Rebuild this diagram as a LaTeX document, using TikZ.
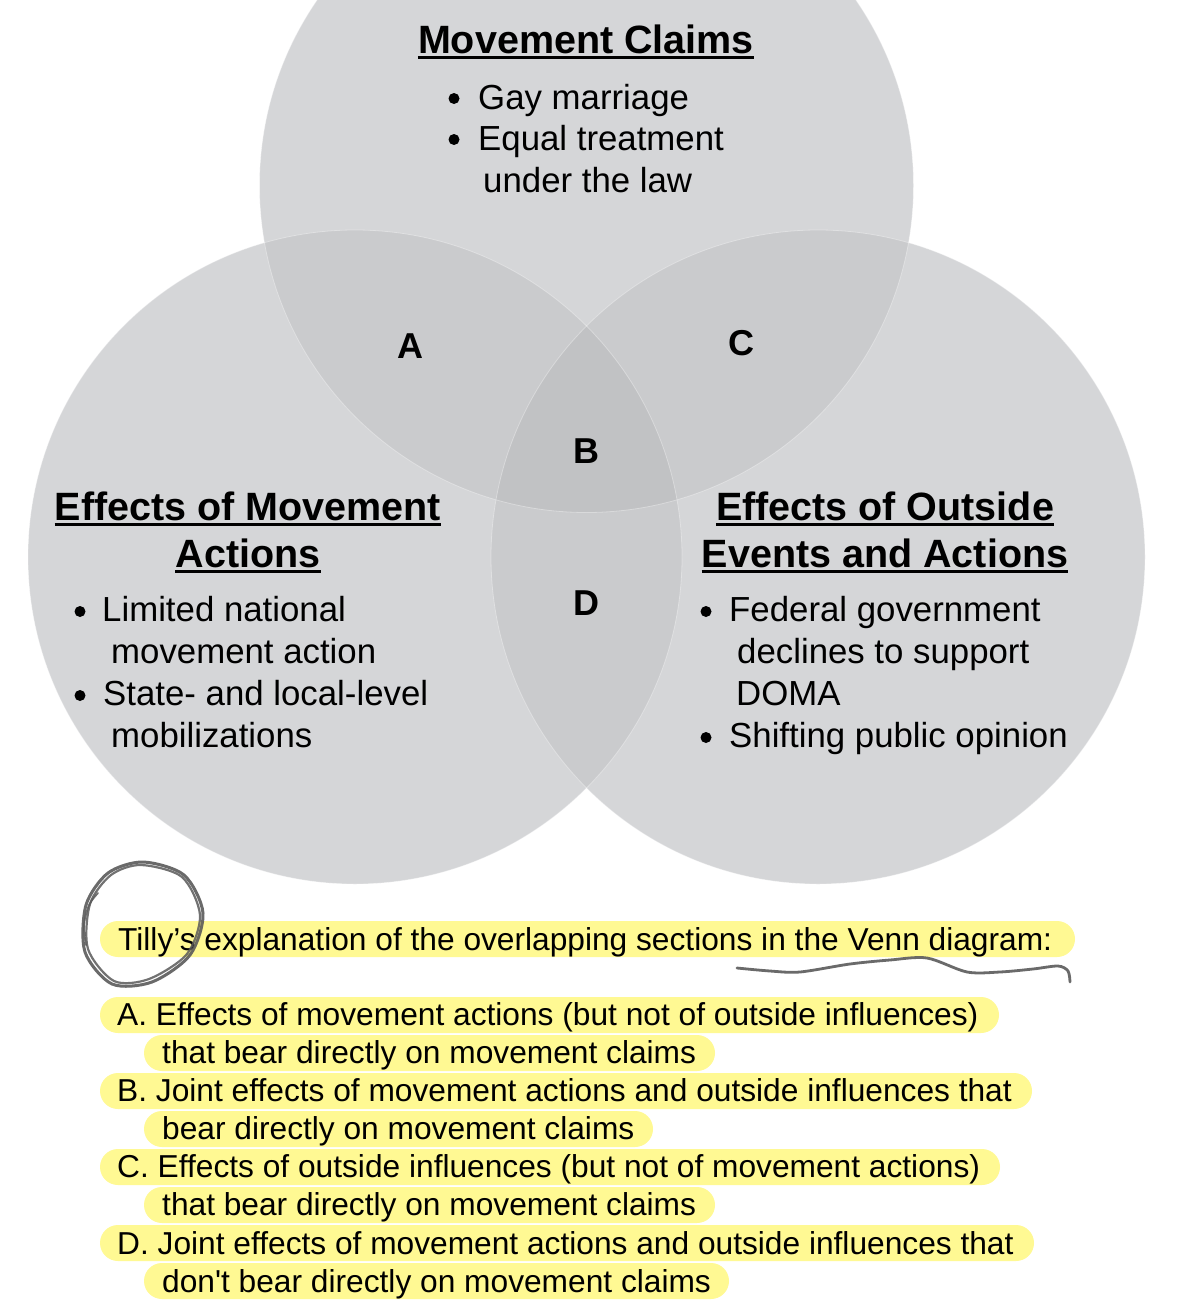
\documentclass[tikz,border=0pt]{standalone}
\usepackage{fontspec}
\setmainfont{Liberation Sans}
\newfontfamily\nomapfont{Liberation Sans}[Ligatures=TeXOff]
\definecolor{cone}{HTML}{D5D6D8}
\definecolor{ctwo}{HTML}{CACBCD}
\definecolor{cthree}{HTML}{C1C2C4}
\definecolor{hl}{HTML}{FFF993}
\definecolor{pen}{HTML}{5A5A5A}
\tikzset{
  title/.style={inner sep=0pt, anchor=base, font=\fontsize{39.5}{47}\selectfont\bfseries},
  body/.style={inner sep=0pt, anchor=base west, font=\fontsize{34.8}{42}\selectfont},
  bul/.style={circle, fill=black, inner sep=0pt, minimum size=11pt},
  letter/.style={inner sep=0pt, anchor=base, font=\fontsize{36}{42}\selectfont\bfseries},
  lst/.style={inner sep=0pt, anchor=base west, font=\fontsize{31.7}{38}\selectfont},
  hlbox/.style={fill=hl, rounded corners=18pt},
  uline/.style={line width=2.3pt},
  edge/.style={draw=white, draw opacity=0.35, line width=0.8pt}
}
\begin{document}
\begin{tikzpicture}[x=1pt,y=-1pt]
\useasboundingbox (0,0) rectangle (1182,1314);
\clip (0,0) rectangle (1182,1314);
\fill[white] (0,0) rectangle (1182,1314);
% circle centres
\coordinate (T) at (586.5,185.5);
\coordinate (L) at (355,557);
\coordinate (R) at (818,557);
\def\rad{327pt}
% single regions
\fill[cone] (T) circle[radius=\rad];
\fill[cone] (L) circle[radius=\rad];
\fill[cone] (R) circle[radius=\rad];
% pairwise overlaps
\begin{scope}
  \clip (T) circle[radius=\rad];
  \fill[ctwo] (L) circle[radius=\rad];
  \fill[ctwo] (R) circle[radius=\rad];
\end{scope}
\begin{scope}
  \clip (L) circle[radius=\rad];
  \fill[ctwo] (R) circle[radius=\rad];
\end{scope}
% triple overlap
\begin{scope}
  \clip (T) circle[radius=\rad];
  \clip (L) circle[radius=\rad];
  \fill[cthree] (R) circle[radius=\rad];
\end{scope}
% faint edges
\path[edge] (T) circle[radius=\rad];
\path[edge] (L) circle[radius=\rad];
\path[edge] (R) circle[radius=\rad];

% top circle text
\node[title] (tt) at (586,53) {Movement Claims};
\draw[uline] ([yshift=-4.5pt]tt.base west) -- ([yshift=-4.5pt]tt.base east);
\node[bul] (tb1) at (454,98.5) {};
\node[body] (tl1) at (478,109) {Gay marriage};
\node[bul] (tb2) at (454,139.5) {};
\node[body] (tl2) at (478,150) {Equal treatment};
\node[body] (tl3) at (483,192) {under the law};

% left circle text
\node[title] (lt1) at (248,520) {Effects of Movement};
\draw[uline] ([yshift=-4.5pt]lt1.base west) -- ([yshift=-4.5pt]lt1.base east);
\node[title] (lt2) at (248,567) {Actions};
\draw[uline] ([yshift=-4.5pt]lt2.base west) -- ([yshift=-4.5pt]lt2.base east);
\node[bul] (lb1) at (80,611.5) {};
\node[body] (ll1) at (102,621) {Limited national};
\node[body] (ll2) at (111,663) {movement action};
\node[bul] (lb2) at (80,695.5) {};
\node[body] (ll3) at (103,705) {State- and local-level};
\node[body] (ll4) at (111,747) {mobilizations};

% right circle text
\node[title] (rt1) at (885,520) {Effects of Outside};
\draw[uline] ([yshift=-4.5pt]rt1.base west) -- ([yshift=-4.5pt]rt1.base east);
\node[title] (rt2) at (885,567) {Events and Actions};
\draw[uline] ([yshift=-4.5pt]rt2.base west) -- ([yshift=-4.5pt]rt2.base east);
\node[bul] (rb1) at (706,611.5) {};
\node[body] (rl1) at (729,621) {Federal government};
\node[body] (rl2) at (737,663) {declines to support};
\node[body] (rl3) at (736,705) {DOMA};
\node[bul] (rb2) at (706,737.5) {};
\node[body] (rl4) at (729,747) {Shifting public opinion};

% region letters
\node[letter] (la) at (410,358) {A};
\node[letter] (lb) at (586,463) {B};
\node[letter] (lc) at (741,355) {C};
\node[letter] (ld) at (586,615) {D};

% highlights
\fill[hlbox] (100,921) rectangle (1075,957);
\fill[hlbox] (100,997) rectangle (999,1033);
\fill[hlbox] (144,1035) rectangle (715,1071);
\fill[hlbox] (100,1073) rectangle (1032,1109);
\fill[hlbox] (144,1111) rectangle (653,1147);
\fill[hlbox] (100,1149) rectangle (1000,1185);
\fill[hlbox] (144,1187) rectangle (715,1223);
\fill[hlbox] (100,1225) rectangle (1034,1261);
\fill[hlbox] (144,1263) rectangle (729,1299);

% explanation text
\node[lst] (x0) at (118,950) {Tilly’s explanation of the overlapping sections in the Venn diagram:};
\node[lst] (xa1) at (117,1025) {A. Effects of movement actions (but not of outside influences)};
\node[lst] (xa2) at (162,1063) {that bear directly on movement claims};
\node[lst] (xb1) at (117,1101) {B. Joint effects of movement actions and outside influences that};
\node[lst] (xb2) at (162,1139) {bear directly on movement claims};
\node[lst] (xc1) at (117,1177) {C. Effects of outside influences (but not of movement actions)};
\node[lst] (xc2) at (162,1215) {that bear directly on movement claims};
\node[lst] (xd1) at (117,1254) {D. Joint effects of movement actions and outside influences that};
\node[lst] (xd2) at (162,1292) {don{\nomapfont'}t bear directly on movement claims};

% hand-drawn circle
\draw[pen, line width=3pt, opacity=0.9] plot[smooth cycle] coordinates
  {(143,862) (184,875) (203,913) (190,955) (152,982) (112,984) (85,952) (86,905) (108,873)};
\draw[pen, line width=2.2pt, opacity=0.85] plot[smooth cycle] coordinates
  {(141,865) (182,877) (200,915) (187,954) (149,979) (114,981) (88,949) (90,904) (111,875)};
\draw[pen, line width=1.8pt, line cap=round, opacity=0.85] plot[smooth] coordinates
  {(98,893) (89,905) (84,925) (86,945)};

% hand-drawn squiggle
\draw[pen, line width=2.8pt, line cap=round, opacity=0.9] plot[smooth] coordinates
  {(737,968) (770,971) (800,972) (850,964) (890,960) (927,958) (967,972) (1000,972) (1033,969) (1058,966) (1068,971) (1070,982)};
\end{tikzpicture}
\end{document}
